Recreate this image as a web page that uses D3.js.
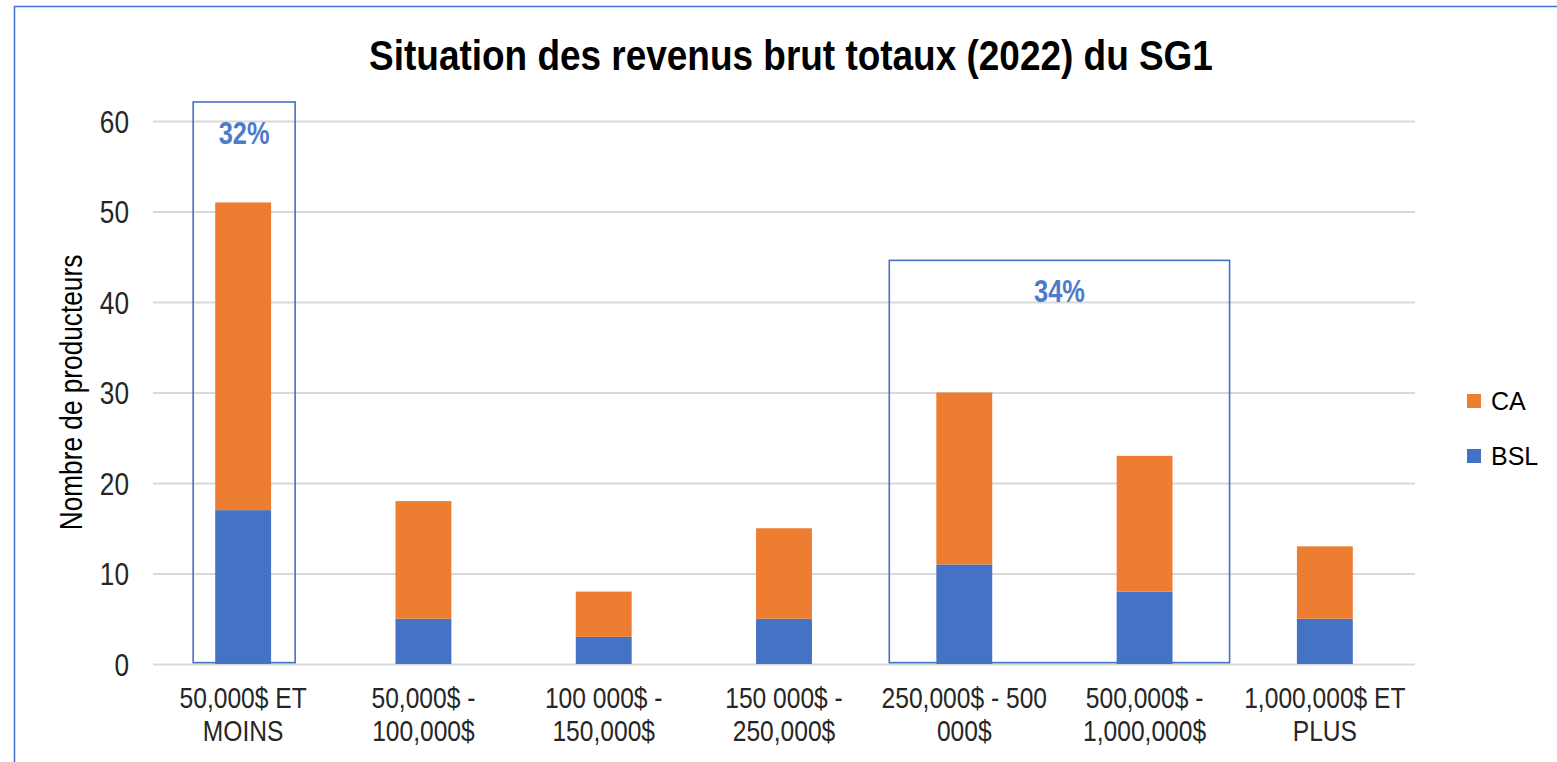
<!DOCTYPE html>
<html>
<head>
<meta charset="utf-8">
<script src="https://cdn.jsdelivr.net/npm/d3@7"></script>
<style>
  body { margin: 0; background: #fff; }
  svg { display: block; }
</style>
</head>
<body>
<div id="chart"></div>
<script>
var categories = [
  ["50,000$ ET", "MOINS"],
  ["50,000$ -", "100,000$"],
  ["100 000$ -", "150,000$"],
  ["150 000$ -", "250,000$"],
  ["250,000$ - 500", "000$"],
  ["500,000$ -", "1,000,000$"],
  ["1,000,000$ ET", "PLUS"]
];
var seriesNames = ["BSL", "CA"];
var bslValues = [17, 5, 3, 5, 11, 8, 5];
var caValues = [34, 13, 5, 10, 19, 15, 8];
var yTicks = [0, 10, 20, 30, 40, 50, 60];
// highlighted groups: first / last category index, top of frame (axis units), label
var highlights = [
  { from: 0, to: 0, top: 62.1, label: "32%" },
  { from: 4, to: 5, top: 44.6, label: "34%" }
];

var width = 1557,
    height = 762;
var sans = "'Liberation Sans',Arial,sans-serif";
var squeeze = 0.82;   // no Arial Narrow here, so squash Liberation Sans
var blue = "#4472C4", orange = "#ED7D31";

var svg = d3.select("#chart")
            .append("svg")
            .attr("width", width)
            .attr("height", height);

// chart area frame (runs off the right / bottom edges like the screenshot)
svg.append("rect")
    .attr("x", 14.5).attr("y", 6.5)
    .attr("width", 1600).attr("height", 800)
    .attr("fill", "none")
    .attr("stroke", blue)
    .attr("stroke-width", 1.5);

var x = d3.scaleBand()
    .domain(d3.range(categories.length))
    .range([153, 1415])
    .paddingInner(0.69)
    .paddingOuter(0.345);

var y = d3.scaleLinear()
    .domain([0, 60])
    .range([664, 121]);

var rows = categories.map(function(c, i) {
  return { i: i, BSL: bslValues[i], CA: caValues[i] };
});
var stacked = d3.stack().keys(seriesNames)(rows);
var color = d3.scaleOrdinal().domain(seriesNames).range([blue, orange]);

// title
svg.append("text")
    .attr("transform", "translate(791,70) scale(0.88,1)")
    .attr("text-anchor", "middle")
    .style("font-family", sans)
    .style("font-weight", "bold")
    .style("font-size", "42px")
    .style("fill", "#000")
    .text("Situation des revenus brut totaux (2022) du SG1");

// gridlines + y labels
var yAxis = svg.append("g")
    .attr("transform", "translate(153,0)")
    .call(d3.axisLeft(y).tickValues(yTicks).tickSize(-1262));
yAxis.select(".domain").remove();
yAxis.selectAll(".tick line")
    .attr("stroke", "#d9d9d9")
    .attr("stroke-width", 2);
yAxis.selectAll(".tick text")
    .attr("x", 0)
    .attr("dy", "0.35em")
    .attr("transform", "translate(-24,0) scale(" + squeeze + ",1)")
    .style("font-family", sans)
    .style("font-size", "32px")
    .style("fill", "#262626");

svg.append("text")
    .attr("transform", "translate(82," + y(30) + ") rotate(-90) scale(" + squeeze + ",1)")
    .attr("text-anchor", "middle")
    .style("font-family", sans)
    .style("font-size", "32px")
    .style("fill", "#000")
    .text("Nombre de producteurs");

// bars
svg.append("g")
  .selectAll("g")
  .data(stacked)
  .enter().append("g")
    .attr("fill", function(d) { return color(d.key); })
  .selectAll("rect")
  .data(function(d) { return d; })
  .enter().append("rect")
    .attr("x", function(d, i) { return x(i); })
    .attr("width", x.bandwidth())
    .attr("y", function(d) { return y(d[1]); })
    .attr("height", function(d) { return y(d[0]) - y(d[1]); });

// x labels
var xl = svg.append("g")
  .selectAll("text")
  .data(categories)
  .enter().append("text")
    .attr("transform", function(d, i) {
      return "translate(" + (x(i) + x.bandwidth() / 2) + ",708) scale(" + squeeze + ",1)";
    })
    .attr("text-anchor", "middle")
    .style("font-family", sans)
    .style("font-size", "30px")
    .style("fill", "#262626");
xl.selectAll("tspan")
  .data(function(d) { return d; })
  .enter().append("tspan")
    .attr("x", 0)
    .attr("dy", function(d, i) { return i ? 33.5 : 0; })
    .text(function(d) { return d; });

// highlight frames
var hl = svg.append("g")
  .selectAll("g")
  .data(highlights)
  .enter().append("g");
function boxLeft(d) { return x(d.from) + x.bandwidth() / 2 - (d.to > d.from ? 75 : 50); }
function boxRight(d) { return x(d.to) + x.bandwidth() / 2 + (d.to > d.from ? 85 : 52); }
hl.append("rect")
    .attr("x", boxLeft)
    .attr("y", function(d) { return y(d.top); })
    .attr("width", function(d) { return boxRight(d) - boxLeft(d); })
    .attr("height", function(d) { return y(0.15) - y(d.top); })
    .attr("fill", "none")
    .attr("stroke", blue)
    .attr("stroke-width", 1.6);
hl.append("text")
    .attr("transform", function(d) {
      return "translate(" + ((boxLeft(d) + boxRight(d)) / 2) + "," + (y(d.top) + 42) + ") scale(" + squeeze + ",1)";
    })
    .attr("text-anchor", "middle")
    .style("font-family", sans)
    .style("font-weight", "bold")
    .style("font-size", "31px")
    .style("fill", "#4F7ACB")
    .text(function(d) { return d.label; });

// legend (CA on top)
var legend = svg.append("g")
  .selectAll("g")
  .data(seriesNames.slice().reverse())
  .enter().append("g")
    .attr("transform", function(d, i) { return "translate(1467," + (401 + i * 55) + ")"; });
legend.append("rect")
    .attr("y", -7)
    .attr("width", 14).attr("height", 14)
    .attr("fill", function(d) { return color(d); });
legend.append("text")
    .attr("x", 24)
    .attr("dy", "0.35em")
    .style("font-family", sans)
    .style("font-size", "25px")
    .style("fill", "#000")
    .text(function(d) { return d; });
</script>
</body>
</html>
